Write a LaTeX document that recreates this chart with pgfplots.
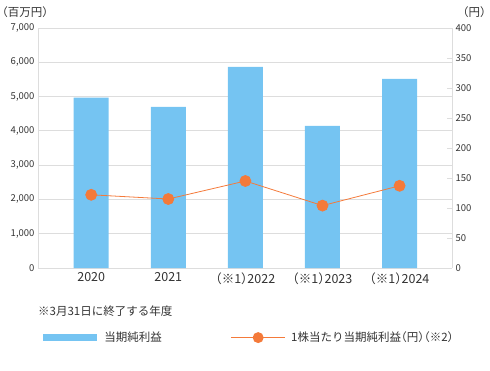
\documentclass[border=0pt]{standalone}
\usepackage{fontspec}
\setmainfont{Noto Sans CJK JP}[RawFeature=+halt]
\usepackage{pgfplots}
\pgfplotsset{compat=1.18}
\definecolor{barblue}{HTML}{75C4F2}
\definecolor{lineorange}{HTML}{F47A3A}
\definecolor{txt}{HTML}{333333}
\definecolor{gridc}{HTML}{DDDDDD}
\begin{document}
\begin{tikzpicture}
\path[use as bounding box] (0pt,0pt) rectangle (490pt,370pt);
\begin{axis}[
  at={(38pt,102pt)}, anchor=south west,
  scale only axis, width=414pt, height=240pt,
  xmin=-0.69, xmax=4.68, ymin=0, ymax=7000,
  axis x line*=bottom, axis y line*=left,
  axis line style={gridc, line width=0.8pt},
  ytick={0,1000,...,7000},
  ymajorgrids, grid style={gridc, line width=0.8pt},
  major tick length=0pt,
  xtick={0,1,2,3,4},
  xticklabels={2020,2021,（※1）2022,（※1）2023,（※1）2024},
  x tick label style={font=\fontsize{12.5}{14}\selectfont, text=txt, yshift=-1pt},
  y tick label style={font=\fontsize{9.5}{11}\selectfont, text=txt},
  /pgf/number format/assume math mode=true,
  /pgf/number format/1000 sep={,},
  scaled y ticks=false,
  clip=false,
]
\addplot[ybar, bar width=35pt, fill=barblue, draw=none] coordinates {
  (0,4970) (1,4700) (2,5865) (3,4145) (4,5515)
};
\end{axis}
\begin{axis}[
  at={(38pt,102pt)}, anchor=south west,
  scale only axis, width=414pt, height=240pt,
  xmin=-0.69, xmax=4.68, ymin=0, ymax=400,
  axis x line=none, axis y line*=right,
  axis line style={gridc, line width=0.8pt},
  ytick={0,50,...,400},
  major tick length=5pt,
  tick style={gridc, line width=0.8pt},
  ytick pos=right, y tick label style={font=\fontsize{9.5}{11}\selectfont, text=txt},
  /pgf/number format/assume math mode=true,
  clip=false,
  legend columns=2,
  legend style={at={(axis description cs:0.005,-0.29)}, anchor=west, draw=none, fill=none,
    font=\fontsize{11.5}{13}\selectfont, text=txt,
    /tikz/every even column/.append style={column sep=67pt}},
  legend cell align=left,
]
\addlegendimage{legend image code/.code={\fill[barblue, draw=none] (0pt,-3.5pt) rectangle (54pt,3.5pt); \path[draw=none, fill=none] (0pt,0pt) -- (59pt,0pt);}}
\addlegendentry{当期純利益}
\addplot[lineorange, line width=0.8pt, mark=*, mark size=5.5pt,
  mark options={fill=lineorange, draw=lineorange},
  legend image code/.code={\draw[lineorange, line width=0.8pt] (0pt,0pt) -- (54pt,0pt); \fill[lineorange, draw=none] (27pt,0pt) circle (5.5pt); \path[draw=none, fill=none] (0pt,0pt) -- (58pt,0pt);}]
  coordinates {(0,122) (1,115) (2,145) (3,104) (4,137)};
\addlegendentry{1株当たり当期純利益（円）（※2）}
\end{axis}
\node[anchor=base west, text=txt, font=\fontsize{11.5}{13}\selectfont, inner sep=0pt] at (2pt,353pt) {（百万円）};
\node[anchor=base east, text=txt, font=\fontsize{11.5}{13}\selectfont, inner sep=0pt] at (486pt,353pt) {（円）};
\node[anchor=west, text=txt, font=\fontsize{11.5}{13}\selectfont, inner sep=0pt] at (38pt,59pt) {※3月31日に終了する年度};
\end{tikzpicture}
\end{document}
